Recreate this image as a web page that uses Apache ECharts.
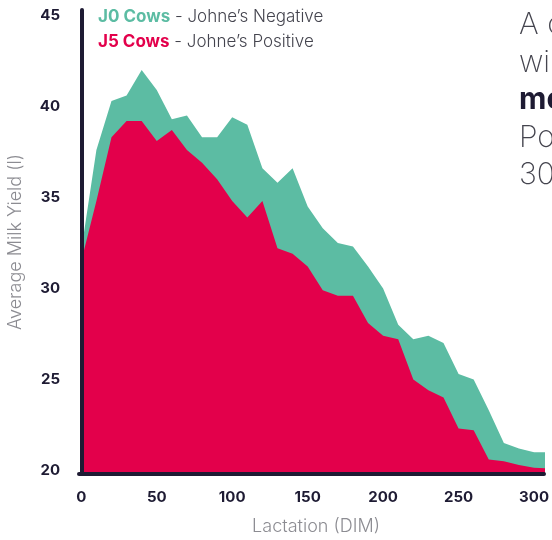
<!DOCTYPE html>
<html>
<head>
<meta charset="utf-8">
<script src="https://cdn.jsdelivr.net/npm/echarts@6/dist/echarts.min.js"></script>
<style>
  html, body { margin: 0; padding: 0; background: #ffffff; }
  #chart { width: 552px; height: 540px; }
</style>
</head>
<body>
<div id="chart"></div>
<script>
// Lactation day (DIM) of each point
const dim = [0, 10, 20, 30, 40, 50, 60, 70, 80, 90, 100, 110, 120, 130, 140, 150,
             160, 170, 180, 190, 200, 210, 220, 230, 240, 250, 260, 270, 280, 290, 300, 310];
// J0 Cows - Johne's Negative (average milk yield, l)
const j0Cows = [32.1, 37.6, 40.3, 40.6, 42.0, 40.9, 39.3, 39.5, 38.3, 38.3, 39.4, 39.0, 36.6, 35.8, 36.6, 34.5,
                33.3, 32.5, 32.3, 31.2, 30.0, 28.0, 27.2, 27.4, 27.0, 25.3, 25.0, 23.3, 21.5, 21.2, 21.0, 21.0];
// J5 Cows - Johne's Positive (average milk yield, l)
const j5Cows = [31.5, 34.8, 38.3, 39.2, 39.2, 38.1, 38.7, 37.6, 36.9, 36.0, 34.8, 33.9, 34.8, 32.2, 31.9, 31.2,
                29.9, 29.6, 29.6, 28.1, 27.4, 27.2, 25.0, 24.4, 24.0, 22.3, 22.2, 20.6, 20.5, 20.3, 20.15, 20.1];
const xTicks = [0, 50, 100, 150, 200, 250, 300];
const yTicks = [20, 25, 30, 35, 40, 45];
const sideText = ["A cow free of Johne\u2019s", "will produce", "more milk than", "Positive cows over", "305 days"];

const GREEN = '#5cbca3';
const RED = '#e3004b';
const DARK = '#1e1b33';
const FONT = 'Inter, "Noto Sans", sans-serif';

const chart = echarts.init(document.getElementById('chart'), null, { renderer: 'canvas' });

const sideGraphics = sideText.map((t, i) => ({
  type: 'text',
  left: 519,
  top: 10 + i * 37.5,
  silent: true,
  style: {
    text: t,
    fill: i === 2 ? DARK : '#44444e',
    font: (i === 2 ? '700 ' : '200 ') + '30px ' + FONT
  }
}));

chart.setOption({
  animation: false,
  backgroundColor: '#ffffff',
  grid: { left: 79, right: 0, top: 10, bottom: 66, containLabel: false },
  xAxis: {
    type: 'value',
    min: -1.53,
    max: 306.6,
    z: 10,
    axisLine: { show: true, lineStyle: { color: DARK, width: 4 } },
    axisTick: { show: false },
    splitLine: { show: false },
    axisLabel: {
      customValues: xTicks,
      margin: 16,
      color: DARK,
      fontFamily: FONT,
      fontWeight: 700,
      fontSize: 15
    }
  },
  yAxis: {
    type: 'value',
    min: 19.8,
    max: 45.3,
    z: 10,
    axisLine: { show: true, lineStyle: { color: DARK, width: 4 } },
    axisTick: { show: false },
    splitLine: { show: false },
    axisLabel: {
      customValues: yTicks,
      margin: 19,
      color: DARK,
      fontFamily: FONT,
      fontWeight: 700,
      fontSize: 15
    }
  },
  series: [
    {
      name: 'J0 Cows',
      type: 'line',
      data: dim.map((d, i) => [d, j0Cows[i]]),
      symbol: 'none',
      lineStyle: { width: 0, color: GREEN },
      areaStyle: { color: GREEN, opacity: 1 },
      z: 2
    },
    {
      name: 'J5 Cows',
      type: 'line',
      data: dim.map((d, i) => [d, j5Cows[i]]),
      symbol: 'none',
      lineStyle: { width: 0, color: RED },
      areaStyle: { color: RED, opacity: 1 },
      z: 3
    }
  ],
  graphic: [
    {
      type: 'text', left: 98, top: 8, silent: true,
      style: {
        text: '{a|J0 Cows}{b| - Johne\u2019s Negative}',
        rich: {
          a: { fill: GREEN, font: '700 17px ' + FONT },
          b: { fill: '#44444e', font: '300 17px ' + FONT }
        }
      }
    },
    {
      type: 'text', left: 98, top: 33, silent: true,
      style: {
        text: '{a|J5 Cows}{b| - Johne\u2019s Positive}',
        rich: {
          a: { fill: RED, font: '700 17px ' + FONT },
          b: { fill: '#44444e', font: '300 17px ' + FONT }
        }
      }
    },
    {
      type: 'text', x: 16, y: 242, rotation: Math.PI / 2, silent: true,
      style: {
        text: 'Average Milk Yield (l)',
        fill: '#8c8c92',
        font: '300 18px ' + FONT,
        align: 'center',
        verticalAlign: 'middle'
      }
    },
    {
      type: 'text', x: 316, y: 527, silent: true,
      style: {
        text: 'Lactation (DIM)',
        fill: '#8c8c92',
        font: '300 18px ' + FONT,
        align: 'center',
        verticalAlign: 'middle'
      }
    }
  ].concat(sideGraphics)
});
</script>
</body>
</html>
